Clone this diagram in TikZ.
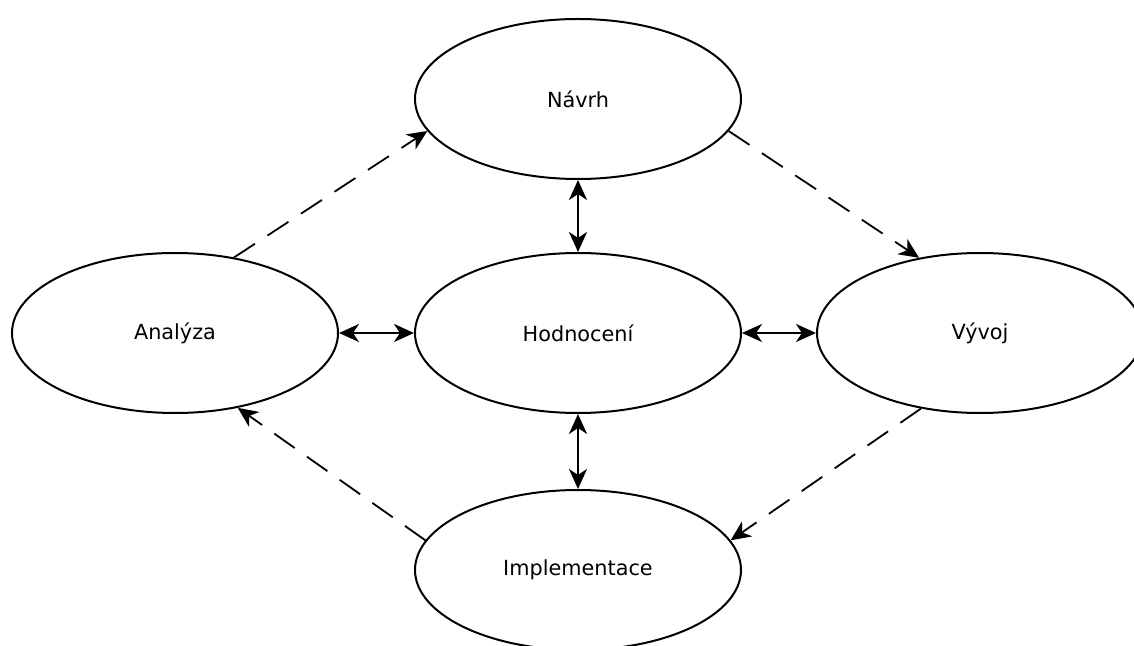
\documentclass[tikz,border=0pt]{standalone}
\usepackage{fontspec}
\setmainfont{DejaVu Sans}
\usetikzlibrary{arrows.meta,shapes.geometric}

\begin{document}
\begin{tikzpicture}[x=0.5pt,y=-0.5pt,
        phase/.style={draw,ellipse,line width=1pt,minimum width=163pt,minimum height=80pt,inner sep=0pt,font=\fontsize{10.4}{12}\selectfont},
        link/.style={{Stealth[length=10pt,width=9pt,inset=3pt]}-{Stealth[length=10pt,width=9pt,inset=3pt]},line width=1.2pt},
        flow/.style={-{Stealth[length=10pt,width=9pt,inset=3pt]},line width=0.9pt,dash pattern=on 12.5pt off 7.5pt}]
        \useasboundingbox (0,0) rectangle (1134,646);
        \node[phase] (Navrh) at (578, 99) {Návrh};
        \node[phase] (Hodnoceni) at (578, 333) {Hodnocení};
        \node[phase] (Analyza) at (175, 333) {Analýza};
        \node[phase] (Vyvoj) at (980, 333) {Vývoj};
        \node[phase] (Implementace) at (578, 570) {Implementace};

        \draw[link] (Analyza) to (Hodnoceni);
        \draw[link] (Hodnoceni) to (Vyvoj);
        \draw[link] (Navrh) to (Hodnoceni);
        \draw[link] (Hodnoceni) to (Implementace);

        \draw[flow] (Analyza.52) to (Navrh.192);
        \draw[flow] (Navrh.348) to (Vyvoj.129);
        \draw[flow] (Vyvoj.232) to (Implementace.11);
        \draw[flow] (Implementace.169) to (Analyza.310);
    \end{tikzpicture}
\end{document}
